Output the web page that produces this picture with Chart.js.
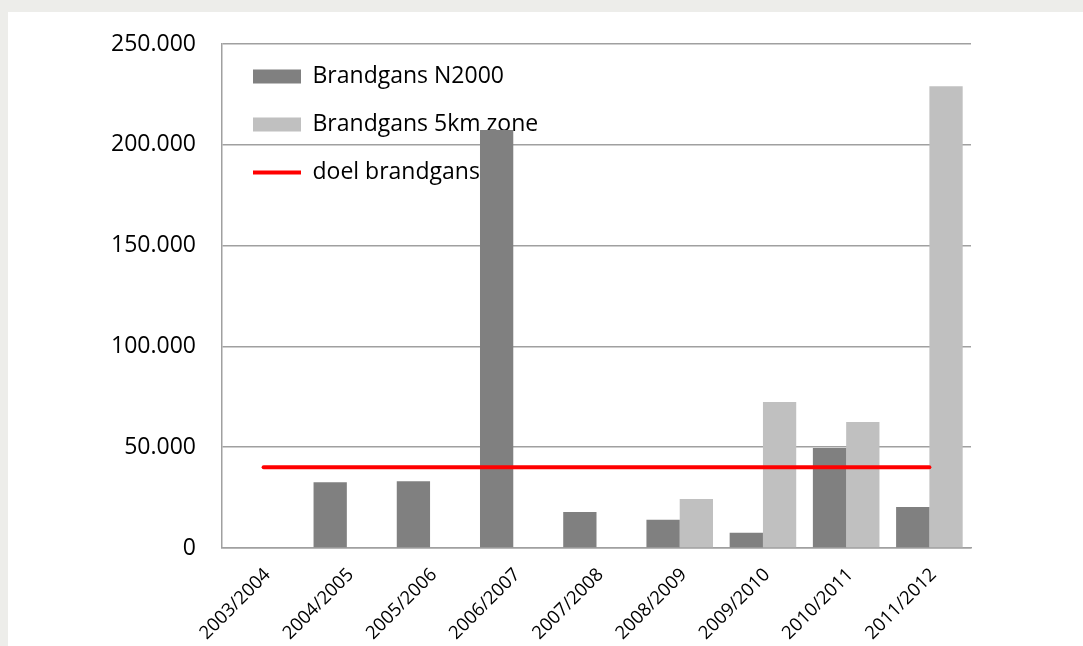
<!DOCTYPE html>
<html>
<head>
<meta charset="utf-8">
<script src="https://cdn.jsdelivr.net/npm/chart.js@4.4.1/dist/chart.umd.min.js"></script>
<style>
  html, body { margin: 0; padding: 0; background: #ededea; }
  #wrap { position: absolute; left: 8px; top: 12px; width: 1075px; height: 634px; background: #ffffff; }
</style>
</head>
<body>
<div id="wrap"><canvas id="canvas"></canvas></div>
<script>
// seizoenen
var seasons = ["2003/2004", "2004/2005", "2005/2006", "2006/2007", "2007/2008",
               "2008/2009", "2009/2010", "2010/2011", "2011/2012"];

// aantallen brandganzen
var n2000 = [null, 32600, 33100, 207300, 17900, 14000, 7600, 49600, 20300];
var zone5km = [null, null, null, null, null, 24300, 72400, 62500, 229000];
var doel = [40000, 40000, 40000, 40000, 40000, 40000, 40000, 40000, 40000];

var yTicks = [0, 50000, 100000, 150000, 200000, 250000];

var fontFam = "'Open Sans', sans-serif";
var gridColor = "#a0a0a0";

// legend a bit further in, like the original
var legendShift = {
    id: 'legendShift',
    afterLayout: function (chart) {
        chart.legend.left += 6;
        chart.legend.top += 28;
    }
};

const ctx = document.getElementById('canvas');

new Chart(ctx, {
    type: 'bar',
    data: {
        labels: seasons,
        datasets: [{
            label: 'Brandgans N2000',
            data: n2000,
            backgroundColor: "#808080",
            pointStyle: 'rect',
            order: 1
        }, {
            label: 'Brandgans 5km zone',
            data: zone5km,
            backgroundColor: "#c0c0c0",
            pointStyle: 'rect',
            order: 1
        }, {
            type: 'line',
            label: 'doel brandgans',
            data: doel,
            borderColor: "#ff0000",
            backgroundColor: "#ff0000",
            borderWidth: 4,
            borderCapStyle: 'round',
            pointRadius: 0,
            pointStyle: 'line',
            order: 0
        }]
    },
    plugins: [legendShift],
    options: {
        responsive: true,
        maintainAspectRatio: false,
        animation: false,
        layout: { padding: { top: 32, right: 112, left: 0, bottom: 0 } },
        datasets: {
            bar: { categoryPercentage: 0.8, barPercentage: 1.0 }
        },
        plugins: {
            tooltip: { enabled: false },
            legend: {
                position: 'chartArea',
                align: 'start',
                labels: {
                    usePointStyle: true,
                    pointStyleWidth: 48,
                    boxHeight: 14,
                    padding: 25,
                    color: "#000000",
                    font: { family: fontFam, size: 23 },
                    sort: function (a, b) { return a.datasetIndex - b.datasetIndex; }
                }
            }
        },
        scales: {
            x: {
                grid: { display: false, drawTicks: false },
                border: { display: true, color: gridColor, width: 1.5 },
                ticks: {
                    color: "#000000",
                    font: { family: fontFam, size: 18.5 },
                    minRotation: 45,
                    maxRotation: 45,
                    padding: 16,
                    labelOffset: 4
                },
                afterFit: function (scale) { scale.height = 98; }
            },
            y: {
                min: 0,
                max: 250000,
                afterBuildTicks: function (scale) {
                    scale.ticks = yTicks.map(function (v) { return { value: v }; });
                },
                // invisible tick marks give the gap between labels and axis
                grid: { color: gridColor, lineWidth: 1.5, drawTicks: true, tickLength: 26, tickColor: 'rgba(0,0,0,0)' },
                border: { display: true, color: gridColor, width: 1.5 },
                ticks: {
                    color: "#000000",
                    font: { family: fontFam, size: 23 },
                    padding: 0,
                    callback: function (v) {
                        return v.toLocaleString('de-DE');
                    }
                },
                afterFit: function (scale) { scale.width = 214; }
            }
        }
    }
});
</script>
</body>
</html>
